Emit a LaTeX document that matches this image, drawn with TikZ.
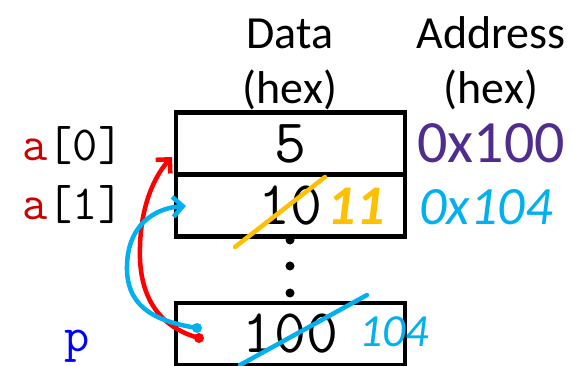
\documentclass[tikz,border=0pt]{standalone}
\usepackage{fontspec}
\setmainfont{Carlito}
\usetikzlibrary{arrows.meta}
\definecolor{penred}{RGB}{255,0,0}
\definecolor{pencyan}{RGB}{0,176,240}
\definecolor{penorange}{RGB}{255,192,0}
\definecolor{addrpurple}{RGB}{80,45,140}
\definecolor{namered}{RGB}{204,0,0}
\definecolor{nameblue}{RGB}{0,0,255}
\tikzset{
    CELL/.style ={rectangle, draw, line width=4.5pt, minimum width=229pt, minimum height=62pt, inner sep=0pt, outer sep=0pt, font=\ttfamily\fontsize{62}{62}\selectfont},
    HEAD/.style ={align=center, anchor=base, font=\fontsize{46}{55}\selectfont},
    NAME/.style ={anchor=base, font=\ttfamily\fontsize{49}{49}\selectfont},
    HAND/.style ={anchor=base, text=pencyan, font=\itshape\fontsize{54}{54}\selectfont},
    PEN/.style ={line width=4.5pt, line cap=round, line join=round},
    TIP/.style ={-{Straight Barb[length=10pt,width=20pt]}}}

\begin{document}
\begin{tikzpicture}[x=1pt,y=-1pt]
        \useasboundingbox (0,0) rectangle (574,366);
        % column heads (base = last line)
        \node[HEAD] (hdata) at (290,104) {Data\\(hex)};
        \node[HEAD] (haddr) at (491,104) {Address\\(hex)};
        % memory cells
        \node[CELL] (a0) at (290.5,143.5) {5};
        \node[CELL] (a1) at (290.5,205.5) {10};
        \node[CELL] (pv) at (290.5,334) {100};
        \foreach \y in {240,266,293} \fill (290,\y) circle[radius=4.5pt];
        % names
        \node[NAME] (la0) at (73,161) {\textcolor{namered}{a}[0]};
        \node[NAME] (la1) at (73,220) {\textcolor{namered}{a}[1]};
        \node[NAME,text=nameblue] (lp) at (77,352) {p};
        % addresses
        \node[anchor=base,text=addrpurple,font=\fontsize{60}{60}\selectfont] (ad0) at (491,163) {0x100};
        \node[HAND] (ad1) at (486,225) {0x104};
        % edits
        \draw[PEN,penorange] (235,247) -- (325,177);
        \node[HAND,text=penorange,font=\itshape\bfseries\fontsize{56}{56}\selectfont] (nv1) at (356,225) {11};
        \draw[PEN,pencyan] (240,365) -- (367,295);
        \node[HAND,font=\itshape\fontsize{46}{46}\selectfont] (nvp) at (394,347) {104};
        % pointers
        \coordinate (rdot) at (199,338);
        \coordinate (rtip) at (172,157);
        \coordinate (bdot) at (197,328);
        \coordinate (btip) at (186,206);
        \draw[PEN,penred,TIP] (rdot) .. controls (162,328) and (138,300) .. (140,247)
            .. controls (141,200) and (158,172) .. (rtip);
        \fill[penred] (rdot) circle[radius=5pt];
        \draw[PEN,pencyan,TIP] (bdot) .. controls (160,322) and (128,310) .. (127,270)
            .. controls (126,225) and (155,208) .. (btip);
        \fill[pencyan] (bdot) circle[radius=5pt];
    \end{tikzpicture}
\end{document}
